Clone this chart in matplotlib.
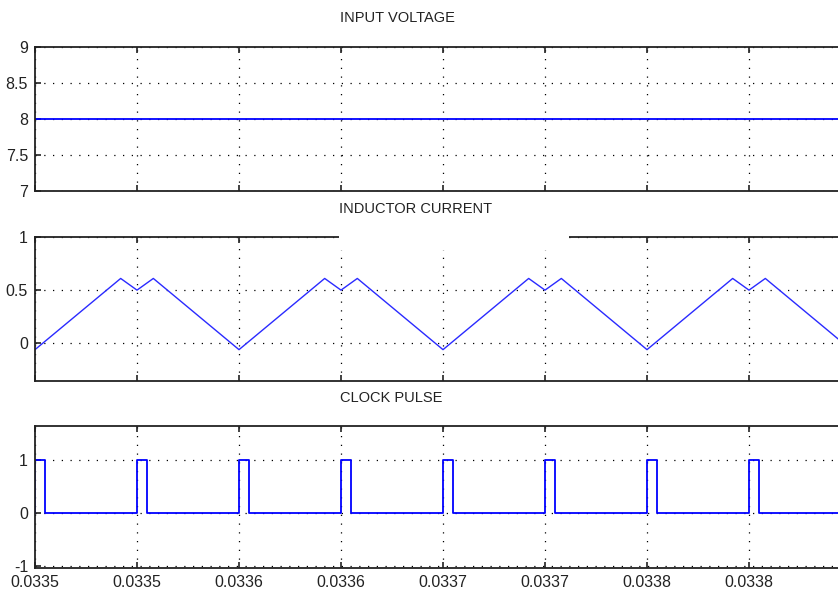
#!/usr/bin/env python3
"""Buck converter scope traces: input voltage, inductor current and clock pulse."""

import matplotlib

matplotlib.use("Agg")
import matplotlib.pyplot as plt
from matplotlib.patches import Rectangle

plt.rcParams["font.family"] = ["Liberation Sans", "DejaVu Sans"]

# time axis (s)
X_LIM = (0.0335, 0.0339)
X_TICKS = [0.03350, 0.03355, 0.03360, 0.03365, 0.03370, 0.03375, 0.03380, 0.03385]
X_TICK_LABELS = ["0.0335", "0.0335", "0.0336", "0.0336", "0.0337", "0.0337", "0.0338", "0.0338"]

# input voltage (V)
voltage_t = [0.0335, 0.0339]
voltage_v = [8.0, 8.0]

# inductor current (A), corner points
current_t = [0.033500, 0.033542, 0.033550, 0.033558,
             0.033600, 0.033642, 0.033650, 0.033658,
             0.033700, 0.033742, 0.033750, 0.033758,
             0.033800, 0.033842, 0.033850, 0.033858,
             0.033900]
current_i = [-0.06, 0.61, 0.50, 0.61,
             -0.06, 0.61, 0.50, 0.61,
             -0.06, 0.61, 0.50, 0.61,
             -0.06, 0.61, 0.50, 0.61,
             -0.06]

# clock pulse edges (step, post)
clock_t = [0.033500, 0.033500, 0.033505,
           0.033550, 0.033555,
           0.033600, 0.033605,
           0.033650, 0.033655,
           0.033700, 0.033705,
           0.033750, 0.033755,
           0.033800, 0.033805,
           0.033850, 0.033855,
           0.033900]
clock_v = [0, 1, 0,
           1, 0,
           1, 0,
           1, 0,
           1, 0,
           1, 0,
           1, 0,
           1, 0,
           0]

W, H = 838, 590
LEFT, RIGHT = 35, 851  # axes run past the right edge of the picture


def axes_rect(top, bottom):
    return [LEFT / W, 1 - bottom / H, (RIGHT - LEFT) / W, (bottom - top) / H]


def style_axis(ax, yticks, ylim, show_xlabels):
    ax.set_xlim(*X_LIM)
    ax.set_ylim(*ylim)
    ax.set_xticks(X_TICKS)
    if show_xlabels:
        ax.set_xticklabels(X_TICK_LABELS)
    else:
        ax.set_xticklabels([])
    ax.set_yticks(yticks)
    ax.set_yticklabels([f"{v:g}" for v in yticks])
    ax.grid(True, color="black", linestyle=(0, (1, 6)), linewidth=0.9)
    ax.tick_params(direction="in", length=4, width=1.2, top=True, right=True,
                   labelsize=11.5, pad=5, colors="#222222")
    for spine in ax.spines.values():
        spine.set_linewidth(1.3)
        spine.set_color("#222222")


fig = plt.figure(figsize=(W / 100, H / 100), dpi=100)

ax1 = fig.add_axes(axes_rect(47, 191))
ax1.plot(voltage_t, voltage_v, color="#0000ff", linewidth=1.3)
style_axis(ax1, [7, 7.5, 8, 8.5, 9], (7, 9), False)

ax2 = fig.add_axes(axes_rect(237, 381))
ax2.plot(current_t, current_i, color="#2a2aff", linewidth=1.0)
style_axis(ax2, [0, 0.5, 1], (-0.355, 1), False)

ax3 = fig.add_axes(axes_rect(426, 568))
ax3.plot(clock_t, clock_v, color="#0000ff", linewidth=1.3, drawstyle="steps-post")
style_axis(ax3, [-1, 0, 1], (-1.03, 1.65), True)

# the inductor-current title box hides part of its axes frame
fig.add_artist(Rectangle((339 / W, 1 - 250 / H), 230 / W, 52 / H,
                         transform=fig.transFigure, facecolor="white",
                         edgecolor="none", zorder=5))

title_kw = dict(ha="left", va="center", fontsize=10.5, color="#222222", zorder=6)
fig.text(340 / W, 1 - 18.5 / H, "INPUT VOLTAGE", **title_kw)
fig.text(339 / W, 1 - 209 / H, "INDUCTOR CURRENT", **title_kw)
fig.text(340 / W, 1 - 397.5 / H, "CLOCK PULSE", **title_kw)

fig.savefig("out.png", dpi=100)
